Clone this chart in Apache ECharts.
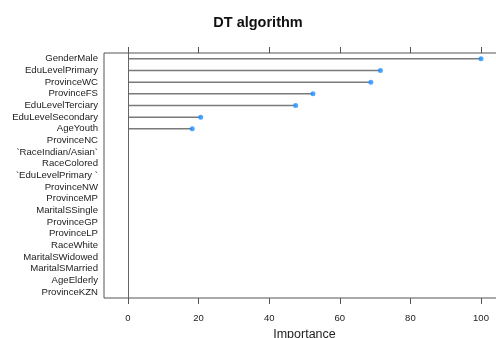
<!DOCTYPE html>
<html>
<head>
<meta charset="utf-8">
<script src="https://cdn.jsdelivr.net/npm/echarts@6/dist/echarts.min.js"></script>
<style>html,body{margin:0;padding:0;background:#fff}#c{width:496px;height:338px}</style>
</head>
<body>
<div id="c"></div>
<script>
var categories = ["GenderMale","EduLevelPrimary","ProvinceWC","ProvinceFS","EduLevelTerciary","EduLevelSecondary","AgeYouth","ProvinceNC","`RaceIndian/Asian`","RaceColored","`EduLevelPrimary `","ProvinceNW","ProvinceMP","MaritalSSingle","ProvinceGP","ProvinceLP","RaceWhite","MaritalSWidowed","MaritalSMarried","AgeElderly","ProvinceKZN"];
var importance = [100, 71.5, 68.8, 52.4, 47.5, 20.6, 18.2, 0, 0, 0, 0, 0, 0, 0, 0, 0, 0, 0, 0, 0, 0];
var xTicks = [0, 20, 40, 60, 80, 100];

var chart = echarts.init(document.getElementById('c'), null, {renderer: 'canvas'});
var font = '"Liberation Sans", Arial, sans-serif';
var axisCommon = {
  type: 'value', min: -6.8, max: 106.8,
  axisLine: {show: false},
  splitLine: {show: false},
  axisTick: {show: true, length: 6, lineStyle: {color: '#555', width: 1}, customValues: xTicks}
};
chart.setOption({
  animation: false,
  title: {
    text: 'DT algorithm', left: 253, top: 10, textAlign: 'center',
    textStyle: {fontFamily: font, fontSize: 14.5, fontWeight: 'bold', color: '#111'}
  },
  grid: {left: 104, top: 53, right: -9, bottom: 40, show: true, borderColor: '#555', borderWidth: 1,
         containLabel: false, outerBoundsMode: 'none'},
  xAxis: [
    Object.assign({}, axisCommon, {
      position: 'bottom',
      name: 'Importance', nameLocation: 'middle', nameGap: 29,
      nameTextStyle: {fontFamily: font, fontSize: 12.5, color: '#222'},
      axisLabel: {show: true, margin: 15, fontFamily: font, fontSize: 9.5, color: '#222', customValues: xTicks}
    }),
    Object.assign({}, axisCommon, {
      position: 'top',
      axisLabel: {show: false}
    })
  ],
  yAxis: {
    type: 'category', data: categories, inverse: true,
    axisLine: {show: false}, axisTick: {show: false}, splitLine: {show: false},
    axisLabel: {margin: 6, interval: 0, fontFamily: font, fontSize: 9.6, color: '#222'}
  },
  series: [
    {
      type: 'bar', data: importance, barWidth: 1.5, xAxisIndex: 0,
      itemStyle: {color: '#7a7a7a'},
      silent: true,
      markLine: {
        silent: true, symbol: 'none', label: {show: false},
        lineStyle: {color: '#666', width: 1, type: 'solid'},
        data: [{xAxis: 0}]
      }
    },
    {
      type: 'scatter', xAxisIndex: 0,
      data: importance.map(function (v) { return v > 0 ? v : '-'; }),
      symbol: 'circle', symbolSize: 5,
      itemStyle: {color: '#1E90FF'}
    }
  ]
});
</script>
</body>
</html>
